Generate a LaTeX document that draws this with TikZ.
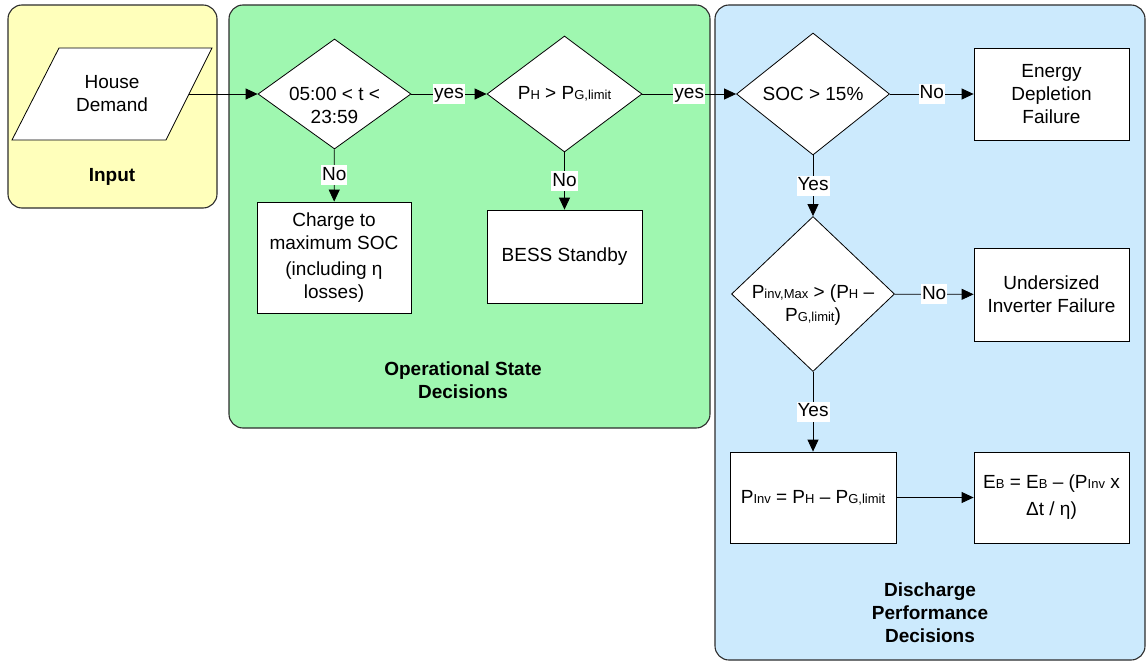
\documentclass[tikz,border=0pt]{standalone}
\usepackage{fontspec}
\setmainfont{Liberation Sans}
\definecolor{laneyellow}{RGB}{255,255,187}
\definecolor{lanegreen}{RGB}{159,247,176}
\definecolor{laneblue}{RGB}{204,234,253}
\definecolor{lanegray}{RGB}{45,45,45}
\newcommand\lo[1]{{\fontsize{13}{13}\selectfont #1}}% small index letters
\tikzset{
  flownode/.style = {align=center, inner sep=0pt, text centered},
  fl_box/.style = {flownode, rectangle, draw=black, fill=white,
    minimum width=155pt, minimum height=92pt},% process step
  fl_dec/.style = {flownode, diamond, draw=black, fill=white},% decision, text put in by label
  fl_dtext/.style = {flownode, yshift=-11.5pt},% first line on the middle of the diamond
  fl_yn/.style = {flownode, fill=white, inner sep=1pt,
    text height=14pt, text depth=4pt},% yes / no tag
  fl_lane/.style = {draw=lanegray, line width=1.1pt, rounded corners=14pt},% swimlane
  fl_title/.style = {flownode, font=\fontsize{19}{23}\selectfont\bfseries}
}
\usetikzlibrary{arrows.meta,shapes.geometric}

\begin{document}
\begin{tikzpicture}[x=1pt, y=-1pt, >={Triangle[length=12pt,width=11pt]},
  font=\fontsize{19}{23}\selectfont, line width=0.8pt]
\useasboundingbox (0,0) rectangle (1146,661);
% swimlanes
\filldraw[fl_lane, fill=laneyellow] (8,5) rectangle (217,208);
\filldraw[fl_lane, fill=lanegreen] (229,5) rectangle (710,428);
\filldraw[fl_lane, fill=laneblue] (715,5) rectangle (1145,660);
\node [fl_title] (t_in) at (112,177) {Input};
\node [fl_title] (t_op) at (463,380.5) {Operational State\\Decisions};
\node [fl_title] (t_dis) at (930,613) {Discharge\\Performance\\Decisions};

% input parallelogram
\filldraw[draw=black, fill=white] (59,48) -- (212,48) -- (166,140) -- (12,140) -- cycle;
\node [flownode] (in) at (112,94) {House\\Demand};
\coordinate (in_r) at (189,94);

\node [fl_dec, minimum width=153pt, minimum height=110pt,
  label={[fl_dtext]center:{05:00 < t <\\23:59}}] (d1) at (334.5,94) {};
\node [fl_dec, minimum width=155pt, minimum height=116pt,
  label={[flownode]center:{P\lo{H} > P\lo{G,limit}}}] (d2) at (564.5,94) {};
\node [fl_dec, minimum width=153pt, minimum height=122pt,
  label={[flownode]center:{SOC > 15\%}}] (d3) at (813,94) {};
\node [fl_dec, minimum width=163pt, minimum height=155pt,
  label={[fl_dtext]center:{P\lo{inv,Max} > (P\lo{H} –\\P\lo{G,limit})}}] (d4) at (813,294) {};

\node [fl_box, minimum width=154pt, minimum height=111pt] (chg) at (334,257.5)
  {Charge to\\maximum SOC\\[3pt](including η\\losses)};
\node [fl_box, minimum height=93pt] (bess) at (564.5,256.5) {BESS Standby};
\node [fl_box] (depl) at (1051.5,94) {Energy\\Depletion\\Failure};
\node [fl_box, minimum height=93pt] (inv) at (1051.5,294.5) {Undersized\\Inverter Failure};
\node [fl_box, minimum width=166pt, minimum height=91pt] (pinv) at (813,497.5)
  {P\lo{Inv} = P\lo{H} – P\lo{G,limit}};
\node [fl_box, minimum height=91pt] (eb) at (1051.5,497.5)
  {E\lo{B} = E\lo{B} – (P\lo{Inv} x\\[4pt]Δt / η)};

% connectors
\draw[->] (in_r) -- (d1);
\draw[->] (d1) -- node[fl_yn] {yes} (d2);
\draw[->] (d2) -- node[fl_yn] {yes} (d3);
\draw[->] (d3) -- node[fl_yn] {No} (depl);
\draw[->] (d3) -- node[fl_yn] {Yes} (d4);
\draw[->] (d4) -- node[fl_yn] {No} (inv);
\draw[->] (d4) -- node[fl_yn] {Yes} (pinv);
\draw[->] (pinv) -- (eb);
\draw[->] (d1) -- node[fl_yn] {No} (chg);
\draw[->] (d2) -- node[fl_yn] {No} (bess);
\end{tikzpicture}
\end{document}
